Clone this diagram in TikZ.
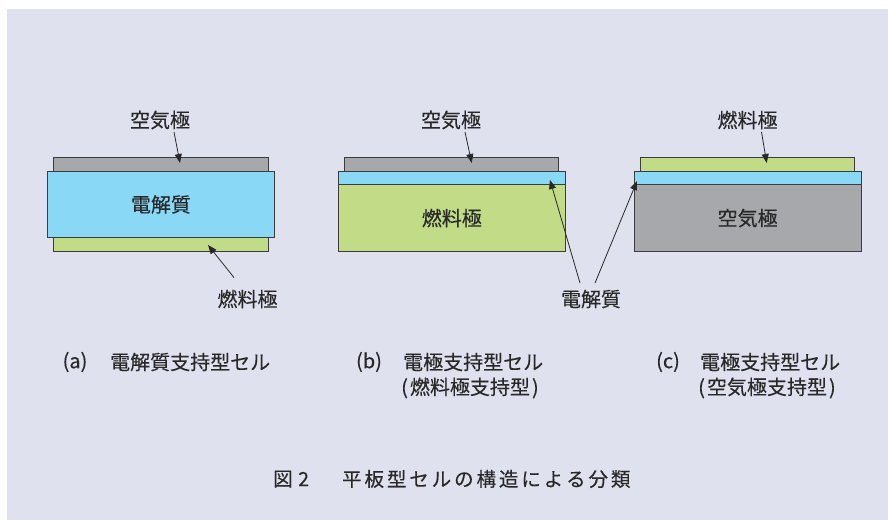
\documentclass[tikz,border=0pt]{standalone}
\usepackage{fontspec}
\setmainfont{Noto Sans CJK JP}[FakeBold=0.25]
\usetikzlibrary{arrows.meta}
\definecolor{bgpanel}{RGB}{223,225,239}
\definecolor{elgray}{RGB}{167,168,171}
\definecolor{elblue}{RGB}{137,216,246}
\definecolor{elgreen}{RGB}{193,219,135}
\definecolor{edgecol}{RGB}{60,60,62}
\definecolor{ink}{RGB}{40,40,40}
\newcommand\capcell[1]{\makebox[22.4pt]{#1}}
\begin{document}
\begin{tikzpicture}[x=1pt,y=-1pt,
  layer/.style={draw=edgecol, line width=0.9pt, inner sep=0pt, anchor=north west, text=ink,
    font=\fontsize{20}{22}\selectfont},
  lbl/.style={text=ink, font=\fontsize{20}{22}\selectfont, inner sep=0pt},
  captxt/.style={text=ink, font=\fontsize{20}{24}\selectfont, inner sep=0pt, anchor=west},
  arr/.style={draw=ink, line width=0.8pt, -{Triangle[length=9pt,width=7pt]}}]
\useasboundingbox (0,0) rectangle (888,520);
\fill[white] (0,0) rectangle (888,520);
\fill[bgpanel] (7,9) rectangle (888,520);

% (a)
\node[layer, fill=elgray, minimum width=214.4pt, minimum height=13.4pt] (aTop) at (53.3,157.3) {};
\node[layer, fill=elgreen, minimum width=214.4pt, minimum height=13.4pt] (aBot) at (53.3,237.3) {};
\node[layer, fill=elblue, minimum width=227pt, minimum height=66.6pt] (aMid) at (47,170.7) {電解質};

% (b)
\node[layer, fill=elgray, minimum width=214pt, minimum height=13.4pt] (bTop) at (344.3,157.3) {};
\node[layer, fill=elblue, minimum width=227.3pt, minimum height=13.6pt] (bMid) at (337.7,170.7) {};
\node[layer, fill=elgreen, minimum width=227.3pt, minimum height=66.7pt] (bBot) at (337.7,184.3) {燃料極};

% (c)
\node[layer, fill=elgreen, minimum width=213.7pt, minimum height=13.4pt] (cTop) at (640.3,157.3) {};
\node[layer, fill=elblue, minimum width=227pt, minimum height=13.6pt] (cMid) at (633.7,170.7) {};
\node[layer, fill=elgray, minimum width=227pt, minimum height=66.7pt] (cBot) at (633.7,184.3) {空気極};

% labels
\node[lbl] (lA1) at (160,120) {空気極};
\node[lbl] (lA2) at (247.5,299) {燃料極};
\node[lbl] (lB1) at (451,120) {空気極};
\node[lbl] (lC1) at (747.5,120) {燃料極};
\node[lbl] (lE) at (591,299) {電解質};

% arrow tips
\coordinate (tA1) at (180,163);
\coordinate (tA2) at (208,245);
\coordinate (tB1) at (471.7,163);
\coordinate (tC1) at (766.7,163);
\coordinate (tE1) at (550,180);
\coordinate (tE2) at (637,181);

\draw[arr] ([xshift=14pt,yshift=-2.5pt]lA1.south) -- (tA1);
\draw[arr] ([xshift=-13.5pt,yshift=12pt]lA2.north) -- (tA2);
\draw[arr] ([xshift=14pt,yshift=-2.5pt]lB1.south) -- (tB1);
\draw[arr] ([xshift=14pt,yshift=-2.5pt]lC1.south) -- (tC1);
\draw[arr] ([xshift=-11pt,yshift=6.5pt]lE.north) -- (tE1);
\draw[arr] ([xshift=4pt,yshift=6.5pt]lE.north) -- (tE2);

% captions
\node[lbl] (capA) at (75,362) {(a)};
\node[captxt] (capAt) at (110,362) {電解質支持型セル};
\node[lbl] (capB) at (369,362) {(b)};
\node[captxt] (capBt) at (403,362) {電極支持型セル};
\node[captxt] (capBt2) at (401,388) {(\kern2pt燃料極支持型\kern2pt)};
\node[lbl] (capC) at (668,362) {(c)};
\node[captxt] (capCt) at (700,362) {電極支持型セル};
\node[captxt] (capCt2) at (698,388) {(\kern2pt空気極支持型\kern2pt)};

% figure title
\node[captxt, font=\fontsize{19.5}{22}\selectfont] (fig) at (273,479) {図};
\node[captxt, font=\fontsize{19.5}{22}\selectfont] (fignum) at (298,479) {2};
\node[captxt, font=\fontsize{19.5}{22}\selectfont] (figtitle) at (340.5,479)
  {\capcell{平}\capcell{板}\capcell{型}\capcell{セ}\capcell{ル}\capcell{の}\capcell{構}\capcell{造}\capcell{に}\capcell{よ}\capcell{る}\capcell{分}\capcell{類}};
\end{tikzpicture}
\end{document}
